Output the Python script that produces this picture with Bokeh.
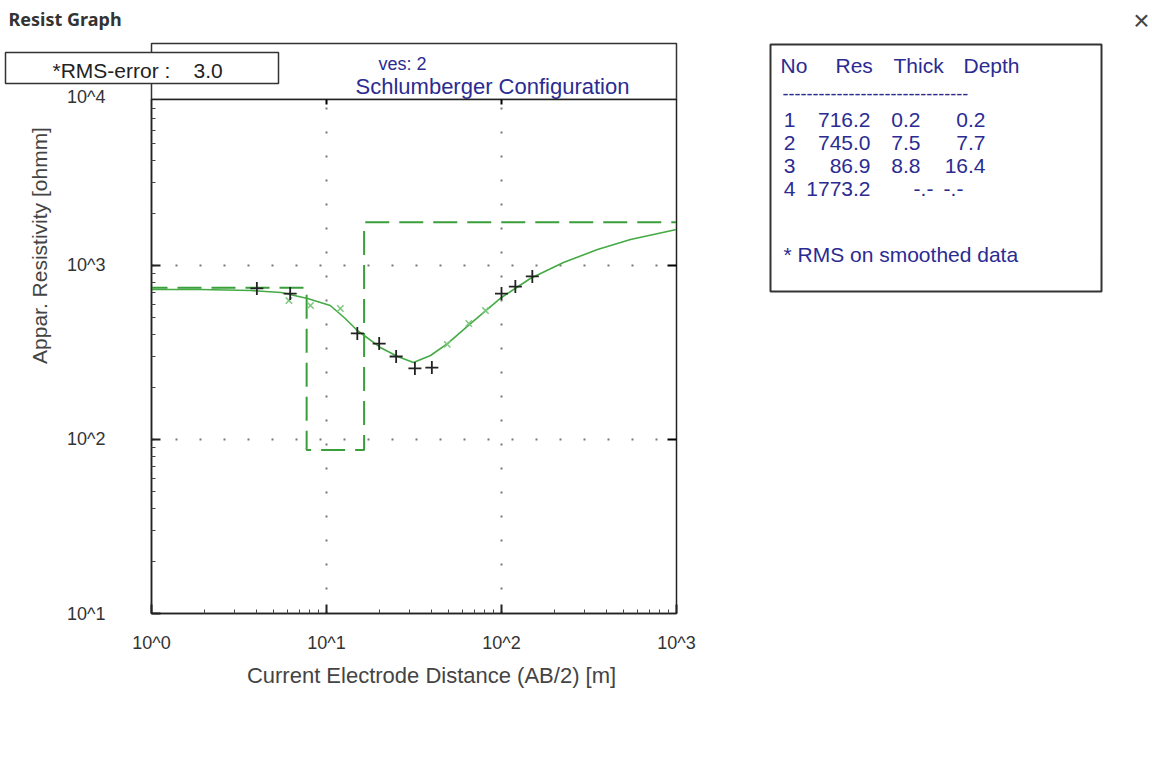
from bokeh.plotting import figure
from bokeh.models import FixedTicker, LogAxis, Range1d
from bokeh.core.properties import value
from bokeh.embed import file_html
from bokeh.resources import INLINE

# ---------------- data ----------------
layer_no = [1, 2, 3, 4]
layer_res = [716.2, 745.0, 86.9, 1773.2]
layer_thick = [0.2, 7.5, 8.8, None]
layer_depth = [0.2, 7.7, 16.4, None]

# observed apparent resistivity (black +)
obs_ab2 = [4, 6.2, 15, 20, 25, 32, 40, 100, 120, 150]
obs_rho = [738, 690, 407, 356, 300, 256, 259, 690, 757, 865]

# smoothed data (green x)
smooth_ab2 = [6.1, 8.1, 12, 49, 65, 81]
smooth_rho = [629, 589, 566, 352, 464, 551]

# calculated model response (solid green)
calc_ab2 = [1.0, 1.9, 3.7, 5.5, 7.8, 10.5, 12.8, 15.0, 20.3, 25.5, 31.4, 39.3,
            49.1, 66.5, 100, 146, 226, 354, 546, 1000]
calc_rho = [728, 728, 718, 700, 646, 589, 496, 423, 338, 300, 277, 304,
            356, 464, 655, 842, 1040, 1236, 1410, 1610]

x_ticks = [1, 10, 100, 1000]
x_tick_labels = ["10^0", "10^1", "10^2", "10^3"]
y_ticks = [10, 100, 1000, 10000]
y_tick_labels = ["10^1", "10^2", "10^3", "10^4"]

rms_error = 3.0
ves_no = 2
config_name = "Schlumberger Configuration"
window_title = "Resist Graph"
x_title = "Current Electrode Distance (AB/2) [m]"
y_title = "Appar. Resistivity [ohmm]"
table_header = ["No", "Res", "Thick", "Depth"]
table_note = "* RMS on smoothed data"

# ---------------- layout constants ----------------
W, H = 1152, 771
FL, FR, FT, FB = 151, 676, 99, 613   # chart frame edges in page pixels
FONT = "Liberation Sans"
BLUE = "#2b2b92"
GREEN = "#3a9e3a"

# ================= chart figure (log axes) =================
mx, my = [0.1], [layer_res[0]]
for i, d in enumerate(layer_depth[:-1]):
    mx += [d, d]
    my += [layer_res[i], layer_res[i + 1]]
mx.append(1000)
my.append(layer_res[-1])

p = figure(width=W, height=H, x_axis_type="log", y_axis_type="log",
           x_range=Range1d(1, 1000), y_range=Range1d(10, 10 ** 3.954),
           output_backend="svg", toolbar_location=None,
           min_border_left=FL, min_border_right=W - FR,
           min_border_top=FT, min_border_bottom=H - FB)
p.background_fill_color = "white"
p.border_fill_color = None
p.outline_line_color = "#222222"
p.outline_line_width = 1.5

minor_x = [m * 10 ** e for e in range(0, 3) for m in range(2, 10)]
minor_y = [m * 10 ** e for e in range(1, 4) for m in range(2, 10)]

xa = p.xaxis[0]
xa.ticker = FixedTicker(ticks=x_ticks, minor_ticks=minor_x)
xa.major_label_overrides = {t: l for t, l in zip(x_ticks, x_tick_labels)}
ya = p.yaxis[0]
ya.ticker = FixedTicker(ticks=y_ticks, minor_ticks=minor_y)
ya.major_label_overrides = {t: l for t, l in zip(y_ticks, y_tick_labels)}
for ax in (xa, ya):
    ax.major_tick_in = 9
    ax.major_tick_out = 0
    ax.minor_tick_in = 4
    ax.minor_tick_out = 0
    ax.axis_line_color = "#222222"
    ax.axis_line_width = 1.5
    ax.major_tick_line_color = "#222222"
    ax.major_tick_line_width = 2
    ax.minor_tick_line_color = "#444444"
    ax.major_label_text_font = FONT
    ax.major_label_text_font_size = "18px"
    ax.major_label_text_color = "#333333"
xa.major_label_standoff = 19
ya.major_label_standoff = 46

right_ax = LogAxis(ticker=FixedTicker(ticks=[100, 1000]), major_tick_in=9, major_tick_out=0,
                   minor_tick_in=0, minor_tick_out=0, major_label_text_font_size="8px",
                   major_label_text_color=None,
                   axis_line_color="#222222", major_tick_line_width=2)
p.add_layout(right_ax, "right")
top_ax = LogAxis(ticker=FixedTicker(ticks=[10, 100]), major_tick_in=5, major_tick_out=0,
                 minor_tick_in=0, minor_tick_out=0, major_label_text_font_size="8px",
                 major_label_text_color=None,
                 axis_line_color="#222222", major_tick_line_width=2)
p.add_layout(top_ax, "above")

p.xgrid.ticker = FixedTicker(ticks=[10, 100])
p.ygrid.ticker = FixedTicker(ticks=[100, 1000])
for g in (p.xgrid[0], p.ygrid[0]):
    g.grid_line_color = "#777777"
    g.grid_line_dash = "2 22"
    g.grid_line_width = 2

p.line(mx, my, line_color=GREEN, line_width=2, line_dash="24 10")
p.line(calc_ab2, calc_rho, line_color="#44aa44", line_width=1.6)
p.scatter(smooth_ab2, smooth_rho, marker="x", size=9, line_color="#7cc87c", line_width=1.5)
p.scatter(obs_ab2, obs_rho, marker="cross", size=13, line_color="#222222", line_width=1.8)

# overlay the chart on top of the background figure
p.styles = {"position": "absolute", "left": "0px", "top": "0px"}

# ================= background figure (window decorations, boxes, texts) =================
bg = figure(width=W, height=H, x_range=Range1d(0, W), y_range=Range1d(0, H),
            min_border=0, output_backend="svg", toolbar_location=None,
            x_axis_location=None, y_axis_location=None)
bg.xgrid.visible = False
bg.ygrid.visible = False
bg.outline_line_color = None
bg.background_fill_color = "white"
bg.border_fill_color = "white"


def Y(cy):
    return H - cy


def box(l, t, r, b, width=1.5):
    bg.quad(left=[l], right=[r], top=[Y(t)], bottom=[Y(b)], fill_color="white",
            line_color="#333333", line_width=width)


def label(text, cx, cy, size="18px", color="#333333", align="left", style="normal",
          angle=0.0, font=FONT):
    bg.text(x=[cx], y=[Y(cy)], text=[text], text_font=value(font),
            text_font_size=value(size), text_color=color, text_align=align,
            text_baseline="middle", text_font_style=style, angle=angle)


# header box with title
box(FL, 43, FR, FT)
label(f"ves: {ves_no}", 402, 63, size="18px", color=BLUE, align="center")
label(config_name, 492, 86, size="22px", color=BLUE, align="center")

# RMS box
box(5, 52, 278, 83)
label("*RMS-error :", 52, 70, size="21px", color="#222222")
label(f"{rms_error:.1f}", 193, 70, size="21px", color="#222222")

# 10^4 label (top of axis, just above the frame)
label(y_tick_labels[-1], 105, 96, size="18px", color="#333333", align="right")

# axis titles
label(x_title, 431, 675, size="22px", color="#444444", align="center")
label(y_title, 39, 245, size="21px", color="#444444", align="center", angle=1.5708)

# window title and close mark
label(window_title, 8, 18, size="18px", color="#333333", style="bold", font="Noto Sans")
label("\u00d7", 1141, 20, size="28px", color="#444444", align="center")

# layer table
box(770, 44, 1101, 291, width=2)
header_x = [780, 835, 893, 963]
for h, hx in zip(table_header, header_x):
    label(h, hx, 65, size="21px", color=BLUE)
label("-" * 31, 782, 93, size="18px", color=BLUE)
row_y = [119, 142, 165, 188]
for i in range(len(layer_no)):
    yy = row_y[i]
    label(str(layer_no[i]), 789, yy, size="21px", color=BLUE, align="center")
    label(f"{layer_res[i]:.1f}", 870, yy, size="21px", color=BLUE, align="right")
    if layer_thick[i] is None:
        label("-.-", 923, yy, size="21px", color=BLUE, align="center")
    else:
        label(f"{layer_thick[i]:.1f}", 920, yy, size="21px", color=BLUE, align="right")
    if layer_depth[i] is None:
        label("-.-", 953, yy, size="21px", color=BLUE, align="center")
    else:
        label(f"{layer_depth[i]:.1f}", 985, yy, size="21px", color=BLUE, align="right")
label(table_note, 783, 254, size="21px", color=BLUE)

open("out.html", "w").write(file_html([bg, p], INLINE))
